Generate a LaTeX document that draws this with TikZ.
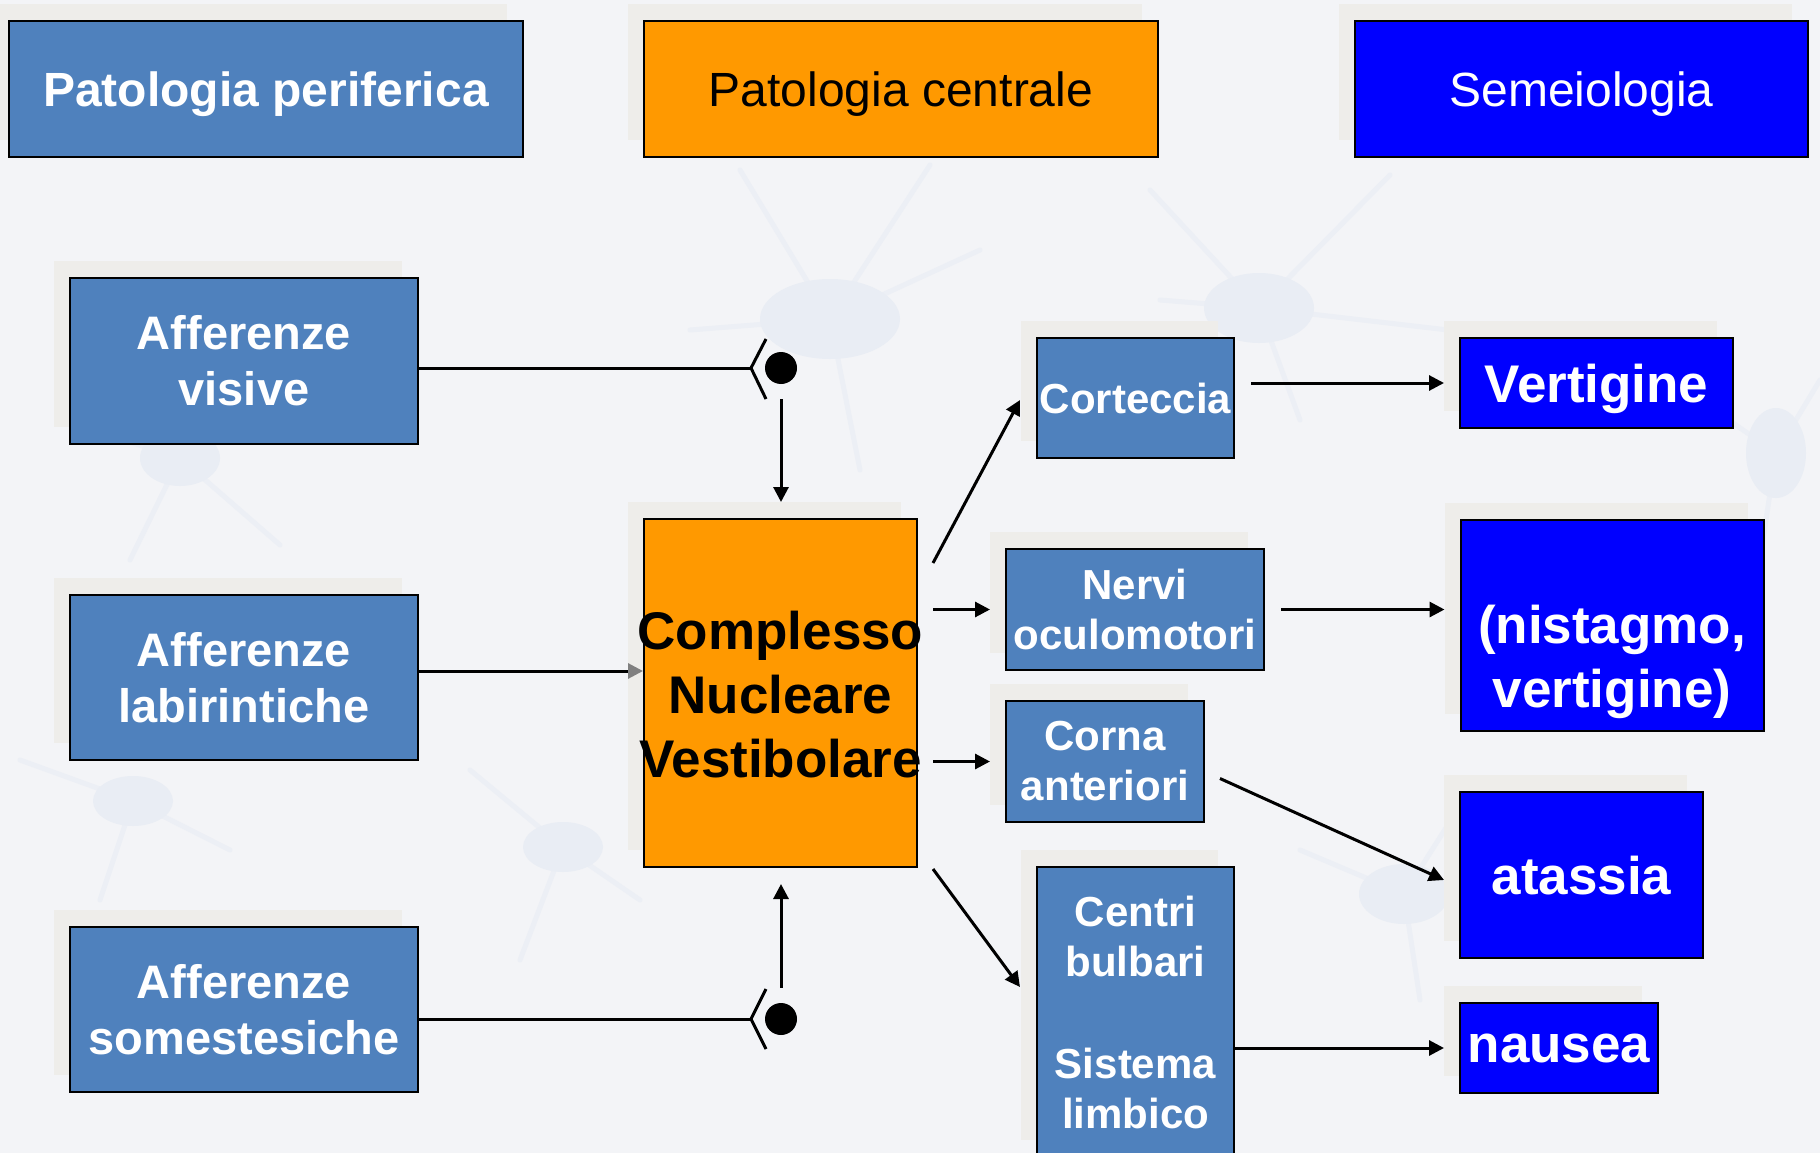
\documentclass[tikz,border=0pt]{standalone}
\usepackage{fontspec}
\setmainfont{Liberation Sans}
\usetikzlibrary{arrows.meta,calc,shadows}
\definecolor{bgc}{HTML}{F3F4F7}
\definecolor{shc}{HTML}{EEEDEA}
\definecolor{steel}{HTML}{4F81BD}
\definecolor{orng}{HTML}{FF9900}
\definecolor{pureblue}{HTML}{0000FF}
\colorlet{neur}{steel!4!bgc}
\colorlet{neurb}{steel!6!bgc}
\begin{document}
\begin{tikzpicture}[x=1pt,y=-1pt,
  box/.style={draw=black, line width=2pt, inner sep=0pt, align=center,
    general shadow={fill=shc, shadow xshift=-16pt, shadow yshift=17pt}},
  blu/.style={box, fill=steel, text=white},
  org/.style={box, fill=orng, text=black},
  pbl/.style={box, fill=pureblue, text=white},
  sz/.style 2 args={minimum width=#1pt, minimum height=#2pt},
  tT/.style={font=\fontsize{48}{56}\selectfont},
  tTb/.style={font=\fontsize{48}{56}\selectfont\bfseries},
  tA/.style={font=\fontsize{47}{56}\selectfont\bfseries},
  tC/.style={font=\fontsize{53}{64}\selectfont\bfseries},
  tM/.style={font=\fontsize{42}{50}\selectfont\bfseries},
  tS/.style={font=\fontsize{53}{64}\selectfont\bfseries},
  conn/.style={line width=3pt},
  arr/.style={conn, -{Triangle[length=15pt,width=15pt]}},
  garr/.style={conn, -{Triangle[length=15pt,width=15pt,color=black!50]}},
  dot/.style={circle, fill=black, minimum size=32pt, inner sep=0pt},
  dend/.style={draw=neur, line width=5pt, line cap=round},
  soma/.style={fill=neurb}
]
\useasboundingbox (0,0) rectangle (1820,1153);
\clip (0,0) rectangle (1820,1153);
\fill[bgc] (0,0) rectangle (1820,1153);

% faint neuron background
\draw[dend] (830,319) -- (930,165) (830,319) -- (740,170) (830,319) -- (980,250)
            (830,319) -- (690,330) (830,319) -- (860,470);
\draw[dend] (1259,308) -- (1390,175) (1259,308) -- (1150,190) (1259,308) -- (1620,350)
            (1259,308) -- (1300,420) (1259,308) -- (1160,300);
\draw[dend] (180,458) -- (130,560) (180,458) -- (280,545) (180,458) -- (60,420)
            (180,458) -- (300,330);
\draw[dend] (133,801) -- (20,760) (133,801) -- (230,850) (133,801) -- (100,900);
\draw[dend] (563,847) -- (470,770) (563,847) -- (640,900) (563,847) -- (520,960);
\draw[dend] (1404,894) -- (1300,850) (1404,894) -- (1420,1000) (1404,894) -- (1470,790);
\draw[dend] (1776,453) -- (1760,560) (1776,453) -- (1820,380) (1776,453) -- (1700,400);
\fill[soma] (830,319) ellipse [x radius=70, y radius=40];
\fill[soma] (1259,308) ellipse [x radius=55, y radius=35];
\fill[soma] (180,458) ellipse [x radius=40, y radius=28];
\fill[soma] (133,801) ellipse [x radius=40, y radius=25];
\fill[soma] (563,847) ellipse [x radius=40, y radius=25];
\fill[soma] (1404,894) ellipse [x radius=45, y radius=30];
\fill[soma] (1776,453) ellipse [x radius=30, y radius=45];

% header boxes
\node[blu, sz={514}{136}, tTb, text depth=0pt] (pp) at (266,89) {Patologia periferica};
\node[org, sz={514}{136}, tT, text depth=0pt] (pc) at (901,89) {Patologia centrale};
\node[pbl, sz={453}{136}, tT, text depth=0pt] (sem) at (1581.5,89) {Semeiologia};

% afferent boxes
\node[blu, sz={348}{166}, tA] (av) at (244,360.5) {Afferenze\\visive};
\node[blu, sz={348}{165}, tA] (al) at (244,677.5) {Afferenze\\labirintiche};
\node[blu, sz={348}{165}, tA] (as) at (244,1009.5) {Afferenze\\somestesiche};

% central complex
\node[org, sz={273}{348}] (cnv) at (780.5,693) {};
\node[tC, text=black, align=center, inner sep=0pt] (cnvt) at ([yshift=-2pt]cnv.center) {Complesso\\Nucleare\\Vestibolare};

% targets
\node[blu, sz={197}{120}, tM, text depth=0pt] (cor) at (1135.5,398) {Corteccia};
\node[blu, sz={258}{121}, tM] (nerv) at (1135,609.5) {Nervi\\oculomotori};
\node[blu, sz={198}{121}, tM] (corna) at (1105,761.5) {Corna\\anteriori};
\node[blu, sz={197}{290}, tM] (cb) at (1135.5,1012) {Centri\\bulbari\\[52pt]Sistema\\limbico};

% symptoms
\node[pbl, sz={273}{90}, tS, text depth=0pt] (vert) at (1596.5,383) {Vertigine};
\node[pbl, sz={303}{211}] (nist) at (1612,625.5) {};
\node[tS, text=white, align=center, inner sep=0pt] (nistt) at ([yshift=-36pt]nist.center) {(nistagmo,\\vertigine)};
\node[pbl, sz={243}{166}, tS, text depth=0pt] (ata) at (1581.5,875) {atassia};
\node[pbl, sz={198}{90}, tS, text depth=0pt] (nau) at (1559,1048) {nausea};

% synapse from visual afferents
\coordinate (fv) at (751,368);
\node[dot] (sv) at (781,368) {};
\draw[conn] (av.east |- fv) -- (fv);
\draw[conn] ($(fv)+(15,-29)$) -- (fv) -- ($(fv)+(15,31)$);
\draw[arr, shorten <=15pt, shorten >=16pt] (sv) -- (sv |- cnv.north);

% synapse from somesthetic afferents
\coordinate (fs) at (751,1019);
\node[dot] (ss) at (781,1019) {};
\draw[conn] (as.east |- fs) -- (fs);
\draw[conn] ($(fs)+(15,-30)$) -- (fs) -- ($(fs)+(15,30)$);
\draw[arr, shorten <=15pt, shorten >=16pt] (ss) -- (ss |- cnv.south);

% labyrinthine input
\coordinate (alo) at ($(al.east)+(0,-6.5)$);
\draw[garr] (alo) -- (alo -| cnv.west);

% outputs of the nuclear complex
\draw[arr] ($(cnv.north east)+(15,45)$) -- ($(cor.west)+(-16,2)$);
\draw[arr] ($(cnv.east |- nerv.west)+(15,0)$) -- ($(nerv.west)+(-15,0)$);
\draw[arr] ($(cnv.east |- corna.west)+(15,0)$) -- ($(corna.west)+(-15,0)$);
\draw[arr] ($(cnv.south east)+(15,1)$) -- ($(cb.west)+(-16,-25)$);

% to symptoms
\draw[arr] ($(cor.east |- vert.west)+(16,0)$) -- ($(vert.west)+(-15,0)$);
\draw[arr] ($(nerv.east)+(16,0)$) -- ($(nist.west |- nerv.east)+(-15,0)$);
\draw[arr] ($(corna.east)+(15,17)$) -- ($(ata.west)+(-15,5)$);
\draw[arr] (cb.east |- nau.west) -- ($(nau.west)+(-15,0)$);
\end{tikzpicture}
\end{document}
